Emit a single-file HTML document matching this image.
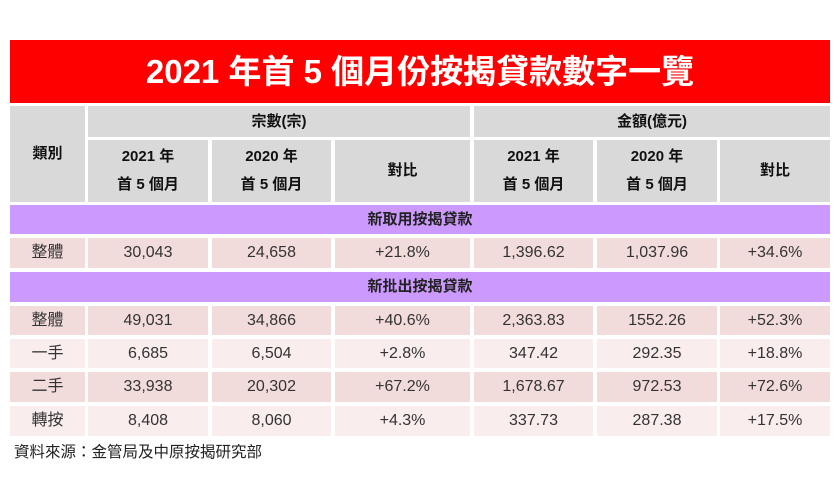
<!DOCTYPE html>
<html><head><meta charset="utf-8"><style>
body{margin:0;width:840px;height:500px;background:#fff;position:relative;overflow:hidden;font-family:"Liberation Sans","Noto Sans CJK TC",sans-serif}
.c{position:absolute;display:flex;align-items:center;justify-content:center;text-align:center;box-sizing:border-box;line-height:20px}
.h{background:#d9d9d9;color:#111;font-size:15px;font-weight:bold;line-height:28px}
.p{background:#cc99ff;color:#222;font-size:15px;font-weight:bold}
.d{background:#f2dcdb;color:#333;font-size:16px}
.l{background:#f9eded;color:#333;font-size:16px}
</style></head><body>
<div class="c" style="left:10px;top:40px;width:820px;height:63px;background:#ff0000;color:#fff;font-size:33px;line-height:36px;font-weight:bold">2021 年首 5 個月份按揭貸款數字一覽</div>
<div class="c h" style="left:10px;top:106px;width:75px;height:96px">類別</div>
<div class="c h" style="left:88px;top:106px;width:382px;height:31px">宗數(宗)</div>
<div class="c h" style="left:474px;top:106px;width:356px;height:31px">金額(億元)</div>
<div class="c" style="left:14px;top:442px;height:22px;font-size:15.5px;color:#222;justify-content:flex-start">資料來源：金管局及中原按揭研究部</div>
<script>
const cols=[[10,75],[88,120],[212,119],[335,135],[474,119],[597,120],[720,110]];
const subHeaders=['2021 年<br>首 5 個月','2020 年<br>首 5 個月','對比','2021 年<br>首 5 個月','2020 年<br>首 5 個月','對比'];
const sections=[['新取用按揭貸款',205,29],['新批出按揭貸款',272,30]];
const rowLabels=['整體','整體','一手','二手','轉按'];
const counts2021=['30,043','49,031','6,685','33,938','8,408'];
const counts2020=['24,658','34,866','6,504','20,302','8,060'];
const countChange=['+21.8%','+40.6%','+2.8%','+67.2%','+4.3%'];
const amt2021=['1,396.62','2,363.83','347.42','1,678.67','337.73'];
const amt2020=['1,037.96','1552.26','292.35','972.53','287.38'];
const amtChange=['+34.6%','+52.3%','+18.8%','+72.6%','+17.5%'];
const rowTops=[[238,30,'d'],[306,29,'d'],[339,29,'l'],[372,30,'d'],[406,30,'l']];
function cell(x,y,w,h,cls,html,name){const e=document.createElement('div');e.className='c '+cls;e.style.cssText=`left:${x}px;top:${y}px;width:${w}px;height:${h}px`;e.innerHTML=html;


document.body.appendChild(e);}
subHeaders.forEach((t,i)=>cell(cols[i+1][0],140,cols[i+1][1],62,'h',t,'column-header'));
sections.forEach(s=>cell(10,s[1],820,s[2],'p',s[0],'section-header'));
rowLabels.forEach((lab,r)=>{const[y,h,cls]=rowTops[r];
const vals=[lab,counts2021[r],counts2020[r],countChange[r],amt2021[r],amt2020[r],amtChange[r]];
vals.forEach((v,i)=>cell(cols[i][0],y,cols[i][1],h,cls,v,i==0?'row-label':'data-cell'));});
</script>
</body></html>
